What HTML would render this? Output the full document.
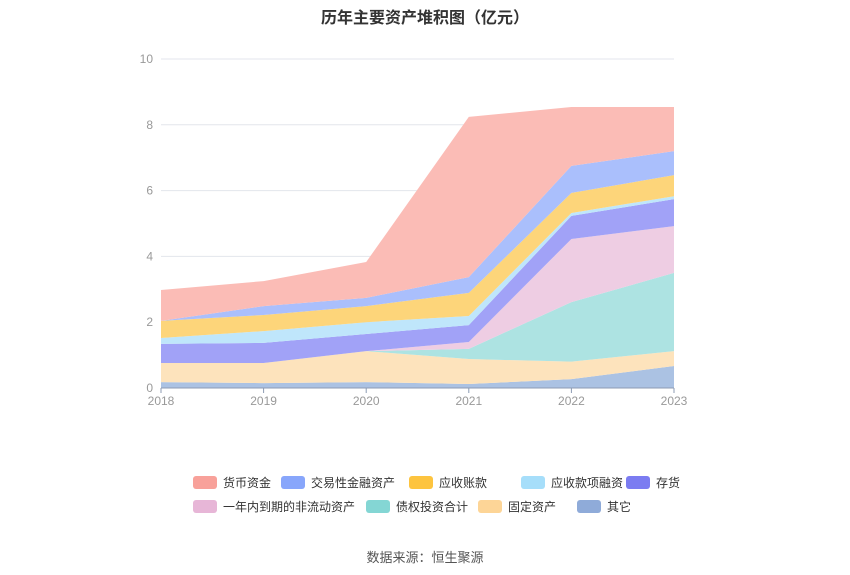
<!DOCTYPE html>
<html><head><meta charset="utf-8"><style>
body{margin:0;background:#fff;font-family:"Liberation Sans","Noto Sans CJK SC",sans-serif;}
#wrap{position:relative;width:850px;height:575px;overflow:hidden}
.title{position:absolute;top:4px;left:0;width:850px;text-align:center;font-size:16px;font-weight:bold;color:#333}
.src{position:absolute;top:547px;left:0;width:850px;text-align:center;font-size:13px;color:#555}
.leg{position:absolute;font-size:12px;color:#333;display:flex;align-items:center;white-space:nowrap}
.leg span.sw{display:inline-block;width:24px;height:13px;border-radius:3px;margin-right:6px}
</style></head><body>
<div id="wrap">
<div class="title">历年主要资产堆积图（亿元）</div>
<svg id="svg" width="850" height="575" style="position:absolute;left:0;top:0"></svg>
<div id="legend"></div>
<div class="src">数据来源：恒生聚源</div>
</div>
<script>
const years=["2018","2019","2020","2021","2022","2023"];
const yTicks=[0,2,4,6,8,10];
const seriesNames=["其它","固定资产","债权投资合计","一年内到期的非流动资产","存货","应收款项融资","应收账款","交易性金融资产","货币资金"];
const sOther=[0.18,0.15,0.18,0.12,0.27,0.67];
const sFixed=[0.58,0.61,0.94,0.76,0.53,0.45];
const sDebt=[0,0,0,0.31,1.81,2.38];
const sNonCur=[0,0,0,0.21,1.92,1.42];
const sInv=[0.58,0.61,0.52,0.51,0.70,0.82];
const sRecFin=[0.18,0.36,0.36,0.28,0.09,0.09];
const sAR=[0.52,0.49,0.49,0.70,0.61,0.64];
const sTrade=[0,0.27,0.25,0.48,0.82,0.73];
const sCash=[0.94,0.76,1.09,4.87,1.79,1.34];
const seriesVals=[sOther,sFixed,sDebt,sNonCur,sInv,sRecFin,sAR,sTrade,sCash];
const fills=["#abc2e3","#fde3bc","#ade3e2","#eecde3","#a1a2f7","#bfe6fb","#fdd57a","#aabffc","#fbbcb6"];
const swatch=["#8fabd9","#fdd597","#84d6d4","#e7b6d7","#7b7cf1","#a6defa","#fdc43f","#88a6fb","#f8a19a"];
const names=["other","fixed-assets","debt-investment","noncurrent-due","inventory","receivable-financing","accounts-receivable","trading-assets","cash"];
const X0=161,X1=674,Y0=388,Y1=59,YMAX=10;
const xs=i=>X0+(X1-X0)*i/(years.length-1);
const ys=v=>Y0-(Y0-Y1)*v/YMAX;
const NS="http://www.w3.org/2000/svg";
const svg=document.getElementById('svg');
function mk(t,a){const e=document.createElementNS(NS,t);for(const k in a)e.setAttribute(k,a[k]);svg.appendChild(e);return e;}
yTicks.forEach(t=>{
 const l=mk('line',{x1:X0,x2:X1,y1:ys(t),y2:ys(t),stroke:t===0?'#8c9bb3':'#e3e6ec','stroke-width':1});
 
 
 const tx=mk('text',{x:X0-8,y:ys(t)+4,'text-anchor':'end','font-size':12,fill:'#999'});
 tx.textContent=t;
 
 
});
let base=years.map(()=>0);
seriesVals.forEach((vals,si)=>{
 const top=base.map((b,i)=>b+vals[i]);
 let d='M'+years.map((_,i)=>xs(i)+','+ys(top[i])).join('L');
 for(let i=years.length-1;i>=0;i--)d+='L'+xs(i)+','+ys(base[i]);
 d+='Z';
 const p=mk('path',{d:d,fill:fills[si]});
 
 
 base=top;
});
const ax=mk('line',{x1:X0,x2:X1,y1:Y0,y2:Y0,stroke:'#8c9bb3'});


years.forEach((y,i)=>{
 const tk=mk('line',{x1:xs(i),x2:xs(i),y1:Y0,y2:Y0+5,stroke:'#8c9bb3'});
 
 
 const t=mk('text',{x:xs(i),y:Y0+17,'text-anchor':'middle','font-size':12,fill:'#999'});
 t.textContent=y;
 
 
});
const legOrder=[8,7,6,5,4,3,2,1,0];
const legPos=[[193,482],[281,482],[409,482],[521,482],[626,482],[193,506],[366,506],[478,506],[577,506]];
const lg=document.getElementById('legend');
legOrder.forEach((si,k)=>{
 const d=document.createElement('div');
 d.className='leg';
 d.style.left=legPos[k][0]+'px';d.style.top=(legPos[k][1]-8)+'px';
 d.innerHTML='<span class="sw" style="background:'+swatch[si]+'"></span>'+seriesNames[si];
 
 
 lg.appendChild(d);
});
</script>
</body></html>
